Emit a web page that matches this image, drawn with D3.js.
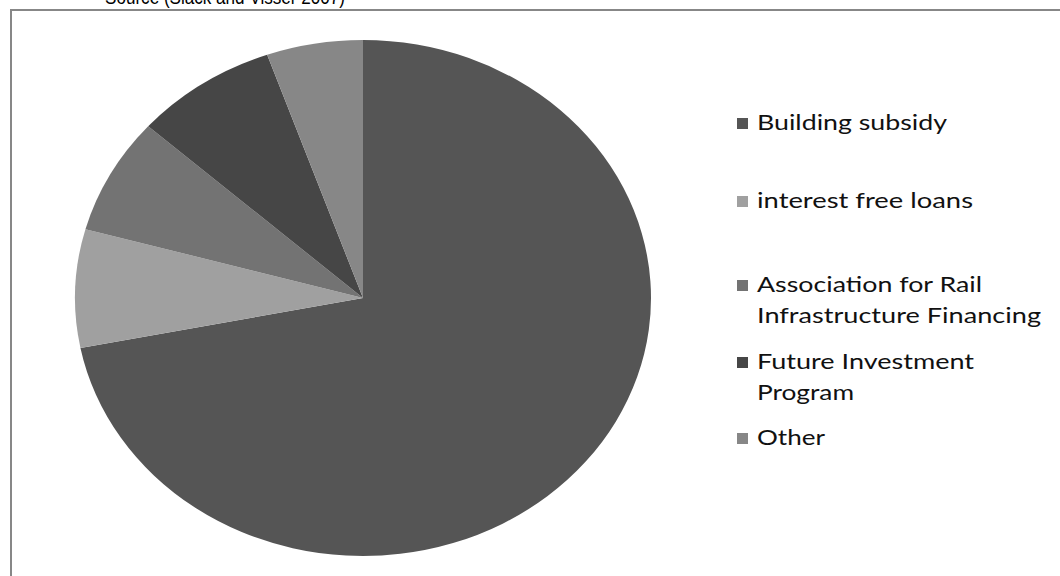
<!DOCTYPE html>
<html>
<head>
<meta charset="utf-8">
<script src="https://cdn.jsdelivr.net/npm/d3@7"></script>
<style>
  html, body { margin: 0; padding: 0; background: #fff; }
  svg { display: block; }
</style>
</head>
<body>
<svg id="chart" width="1060" height="576"></svg>
<script>
// Funding sources, share of total (%)
const categories = [
  ["Building subsidy"],
  ["interest free loans"],
  ["Association for Rail", "Infrastructure Financing"],
  ["Future Investment", "Program"],
  ["Other"]
];
const shares = [71.9, 7.4, 7.3, 8.0, 5.4];
const sliceColors = ["#555555", "#a0a0a0", "#737373", "#464646", "#878787"];
const titleText = "Source (Slack and Visser 2007)";

const svg = d3.select("#chart");

// Caption above the framed chart area
svg.append("text")
  .attr("x", 105).attr("y", 4)
  .attr("font-family", "Liberation Sans, Arial, sans-serif")
  .attr("font-size", 20)
  .attr("fill", "#000")
  .attr("textLength", 240)
  .attr("lengthAdjust", "spacingAndGlyphs")
  .text(titleText);

// Chart frame
svg.append("rect")
  .attr("x", 11).attr("y", 10)
  .attr("width", 1200).attr("height", 800)
  .attr("fill", "none")
  .attr("stroke", "#878787")
  .attr("stroke-width", 2);

// Pie, drawn as a circle and stretched horizontally into an ellipse
const cx = 363, cy = 298, rx = 288, ry = 258;
const pie = d3.pie().sort(null).value(d => d);
const arc = d3.arc().innerRadius(0).outerRadius(ry);

const g = svg.append("g")
  .attr("transform", `translate(${cx},${cy}) scale(${rx / ry},1)`);

g.selectAll("path")
  .data(pie(shares))
  .join("path")
  .attr("d", arc)
  .attr("fill", (d, i) => sliceColors[i]);

// Legend: swatch plus wrapped label, first-line baselines below
const legendX = 737, textX = 757, lineH = 31;
const legendBaselines = [130, 208, 292, 369, 445];

const widths = {
  "Building subsidy": 190,
  "interest free loans": 216,
  "Association for Rail": 225,
  "Infrastructure Financing": 284,
  "Future Investment": 217,
  "Program": 97,
  "Other": 68
};

const entry = svg.append("g").selectAll("g")
  .data(categories)
  .join("g");

entry.append("rect")
  .attr("x", legendX)
  .attr("y", (d, i) => legendBaselines[i] - 12)
  .attr("width", 11).attr("height", 11)
  .attr("fill", (d, i) => sliceColors[i]);

entry.each(function(lines, i) {
  const t = d3.select(this);
  lines.forEach((ln, k) => {
    t.append("text")
      .attr("x", textX)
      .attr("y", legendBaselines[i] + k * lineH)
      .attr("font-family", "Lato, sans-serif")
      .attr("font-size", 22)
      .attr("fill", "#111")
      .attr("textLength", widths[ln])
      .attr("lengthAdjust", "spacingAndGlyphs")
      .text(ln);
  });
});
</script>
</body>
</html>
